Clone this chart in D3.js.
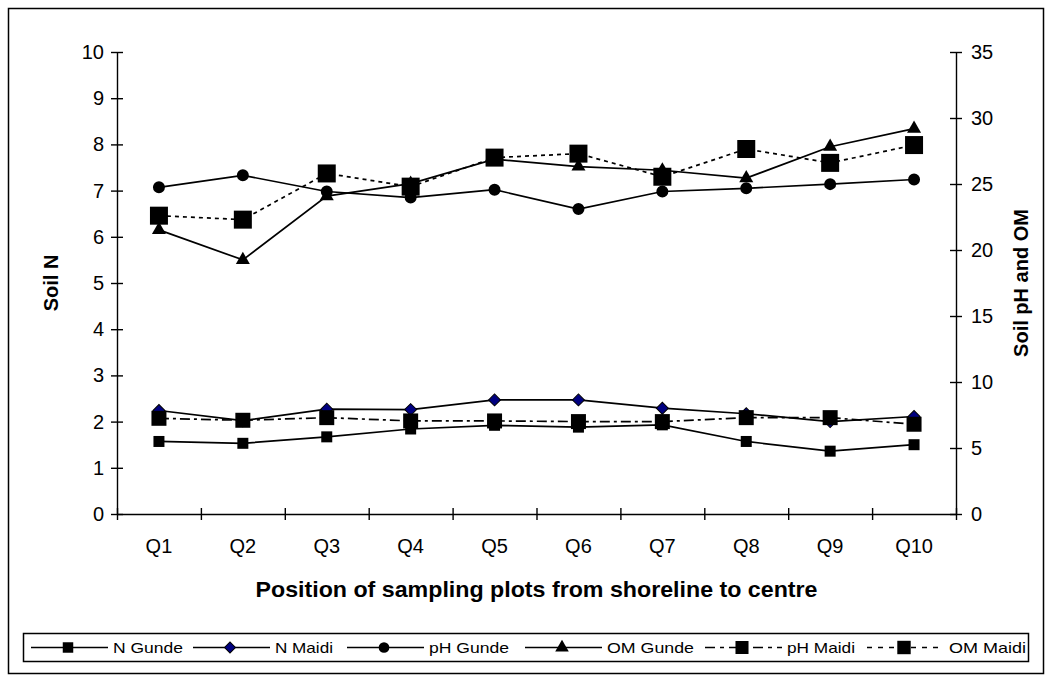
<!DOCTYPE html>
<html><head><meta charset="utf-8">
<script src="https://cdn.jsdelivr.net/npm/d3@7"></script>
<style>
body{margin:0;background:#fff}
text{font-family:"Liberation Sans",Arial,sans-serif;fill:#000}
</style>
</head><body>
<svg id="chart" width="1052" height="682"></svg>
<script>
// ---- data ----
const categories = ["Q1","Q2","Q3","Q4","Q5","Q6","Q7","Q8","Q9","Q10"];
const leftTicks = [0,1,2,3,4,5,6,7,8,9,10];
const rightTicks = [0,5,10,15,20,25,30,35];
// primary (left) axis series
const nGunde  = [1.57,1.53,1.67,1.84,1.92,1.88,1.93,1.57,1.36,1.50];
const nMaidi  = [2.24,2.02,2.27,2.26,2.47,2.47,2.29,2.17,2.00,2.11];
const phGunde = [7.07,7.33,6.98,6.85,7.02,6.60,6.98,7.05,7.14,7.24];
const omGunde = [6.15,5.50,6.88,7.15,7.68,7.52,7.44,7.27,7.95,8.34];
// secondary (right) axis series
const phMaidi = [7.25,7.1,7.3,7.05,7.05,7.0,7.0,7.3,7.3,6.8];
const omMaidi = [22.6,22.3,25.8,24.8,27.0,27.3,25.55,27.65,26.6,27.95];
const seriesNames = ["N Gunde","N Maidi","pH Gunde","OM Gunde","pH Maidi","OM Maidi"];

const FONT = '"Liberation Sans",Arial,sans-serif';
const svg = d3.select("#chart");
const M = {left:117, right:956, top:52, bottom:514};

const x = d3.scaleBand().domain(categories).range([M.left, M.right]).padding(0);
const xTick = d3.scaleLinear().domain([0, categories.length]).range([M.left, M.right]);
const yL = d3.scaleLinear().domain([0,10]).range([M.bottom, M.top]);
const yR = d3.scaleLinear().domain([0,35]).range([M.bottom, M.top]);
const cx = d => x(d) + x.bandwidth()/2;

// outer border
svg.append("rect").attr("x",8.5).attr("y",8.5).attr("width",1035).attr("height",665)
  .attr("fill","#fff").attr("stroke","#000").attr("stroke-width",1.5);

// axes
function styleAxis(g){
  g.selectAll("path.domain").attr("stroke","#000").attr("stroke-width",1.4);
  g.selectAll(".tick line").attr("stroke","#000").attr("stroke-width",1.4);
  g.selectAll("text").attr("font-size",20).attr("font-family",FONT).attr("fill","#000");
}
const gL = svg.append("g").attr("transform",`translate(${M.left},0)`)
  .call(d3.axisLeft(yL).tickValues(leftTicks).tickSizeInner(6).tickSizeOuter(0).tickPadding(7));
gL.selectAll(".tick line").attr("x1",6).attr("x2",-6);
styleAxis(gL);

const gR = svg.append("g").attr("transform",`translate(${M.right},0)`)
  .call(d3.axisRight(yR).tickValues(rightTicks).tickSizeInner(6).tickSizeOuter(0).tickPadding(9));
gR.selectAll(".tick line").attr("x1",-6).attr("x2",6);
styleAxis(gR);

const gB = svg.append("g").attr("transform",`translate(0,${M.bottom})`)
  .call(d3.axisBottom(xTick).tickValues(d3.range(0, categories.length+1)).tickSizeInner(6).tickSizeOuter(0).tickFormat(""));
gB.selectAll(".tick line").attr("y1",-6).attr("y2",6);
styleAxis(gB);

const gBL = svg.append("g").attr("transform",`translate(0,${M.bottom})`)
  .call(d3.axisBottom(x).tickSize(0).tickPadding(25));
gBL.select("path.domain").remove();
styleAxis(gBL);

// axis titles
svg.append("text").attr("x",(M.left+M.right)/2).attr("y",597).attr("text-anchor","middle")
  .attr("font-size",22).attr("font-weight","bold")
  .attr("textLength",562).attr("lengthAdjust","spacingAndGlyphs")
  .text("Position of sampling plots from shoreline to centre");
svg.append("text").attr("transform",`translate(51,${(M.top+M.bottom)/2}) rotate(-90)`)
  .attr("text-anchor","middle").attr("dy","0.36em").attr("font-size",20).attr("font-weight","bold")
  .text("Soil N");
svg.append("text").attr("transform",`translate(1021,${(M.top+M.bottom)/2}) rotate(-90)`)
  .attr("text-anchor","middle").attr("dy","0.36em").attr("font-size",20).attr("font-weight","bold")
  .text("Soil pH and OM");

// series definitions
const series = [
  {name:seriesNames[0], values:nGunde,  y:yL, dash:null,       sym:d3.symbolSquare,  size:121, fill:"#000", rot:0, lsize:110},
  {name:seriesNames[1], values:nMaidi,  y:yL, dash:null,       sym:d3.symbolSquare,  size:72,  fill:"#000080", rot:45, lsize:60},
  {name:seriesNames[2], values:phGunde, y:yL, dash:null,       sym:d3.symbolCircle,  size:113, fill:"#000", rot:0, lsize:90},
  {name:seriesNames[3], values:omGunde, y:yL, dash:null,       sym:d3.symbolTriangle,size:85,  fill:"#000", rot:0, lsize:80},
  {name:seriesNames[4], values:phMaidi, y:yR, dash:"10,4,3,4", sym:d3.symbolSquare,  size:225, fill:"#000", rot:0, lsize:170},
  {name:seriesNames[5], values:omMaidi, y:yR, dash:"4,4",      sym:d3.symbolSquare,  size:324, fill:"#000", rot:0, lsize:180}
];

const plot = svg.append("g");
series.forEach(s => {
  const line = d3.line().x((d,i)=>cx(categories[i])).y(d=>s.y(d));
  plot.append("path").datum(s.values).attr("d",line).attr("fill","none")
    .attr("stroke","#000").attr("stroke-width",1.7)
    .attr("stroke-dasharray",s.dash);
});
series.forEach(s => {
  plot.selectAll(null).data(s.values).enter().append("path")
    .attr("d", d3.symbol().type(s.sym).size(s.size))
    .attr("transform",(d,i)=>`translate(${cx(categories[i])},${s.y(d)}) rotate(${s.rot})`)
    .attr("fill",s.fill).attr("stroke","#000").attr("stroke-width",s.rot?1:0);
});

// legend
const leg = svg.append("g");
leg.append("rect").attr("x",23.5).attr("y",633.5).attr("width",1005).attr("height",28)
  .attr("fill","#fff").attr("stroke","#000").attr("stroke-width",1.5);
const legStarts = [31,193,347,525,705,867];
const legWidths = [70,58,80,87,68,77];
const ly = 647.5;
series.forEach((s,i) => {
  const x0 = legStarts[i];
  leg.append("line").attr("x1",x0).attr("x2",x0+77).attr("y1",ly).attr("y2",ly)
    .attr("stroke","#000").attr("stroke-width",1.5).attr("stroke-dasharray",s.dash ? (i===4?"10,5,4,5":"5,6") : null);
  leg.append("path").attr("d",d3.symbol().type(s.sym).size(s.lsize))
    .attr("transform",`translate(${x0+37},${ly}) rotate(${s.rot})`)
    .attr("fill",s.fill).attr("stroke","#000").attr("stroke-width",s.rot?1:0);
  leg.append("text").attr("x",x0+82).attr("y",ly).attr("dy","0.36em")
    .attr("font-size",15).attr("textLength",legWidths[i]).attr("lengthAdjust","spacingAndGlyphs")
    .text(s.name);
});
</script>
</body></html>
